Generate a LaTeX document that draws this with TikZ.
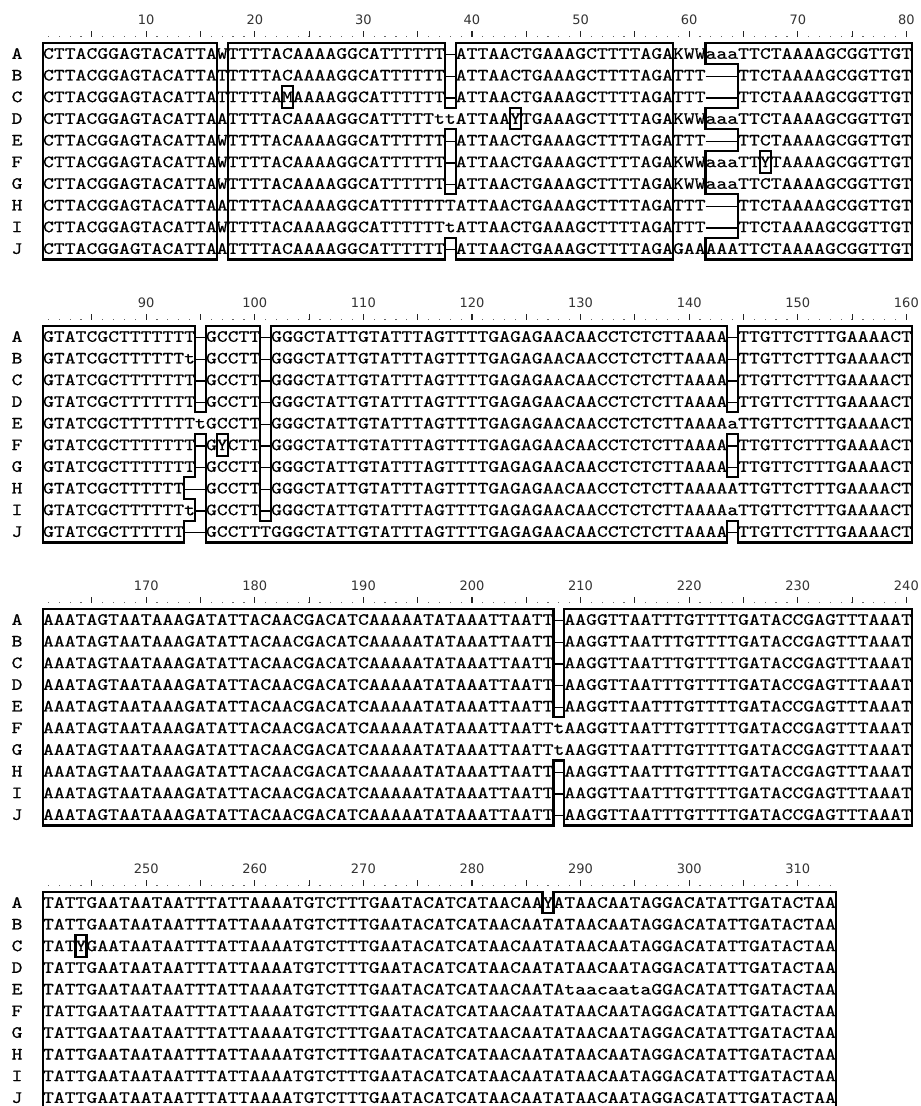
\documentclass[tikz,border=0pt]{standalone}
\usepackage{graphicx}
\usepackage{fontspec}
\newfontfamily\seqfont[FakeBold=0.6]{lmmono10-regular.otf}
\newfontfamily\numfont{DejaVu Sans}
\newcommand\gp{\rule[3.4pt]{10.862pt}{1.3pt}}
\newcommand\cells[1]{\cellsA#1\relax}
\def\cellsA#1{\ifx\relax#1\else\ifx\gp#1\gp\else\makebox[10.862pt]{\scalebox{1.2}[1]{#1}}\fi\expandafter\cellsA\fi}
\tikzset{
  seq/.style={anchor=base west,inner sep=0pt,outer sep=0pt,font=\seqfont\fontsize{17.2pt}{20pt}\selectfont},
  lab/.style={anchor=base,inner sep=0pt,font=\seqfont\fontsize{17.2pt}{20pt}\selectfont},
  num/.style={anchor=center,inner sep=0pt,text=black!80,font=\numfont\fontsize{13pt}{15pt}\selectfont},
  boxline/.style={draw=black,line width=2.2pt,line join=miter},
  tickline/.style={draw=black!85,line width=1.1pt},
  dotc/.style={fill=black!60}
}
\newcommand\seqline[4]{\node[seq] (#1) at (43,{#2+16.1+#3*21.67}) {\cells{#4}};}
\newcommand\rowlab[4]{\node[lab] (#1) at (17,{#2+16.1+#3*21.67}) {\scalebox{1.2}[1]{#4}};}
\newcommand\ruler[4]{% #1 top, #2 ncols, #3 offset, #4 block id
  \foreach \k in {1,...,#2} {\fill[dotc] ({43+(\k-0.5)*10.86-0.6},{#1-6.6}) rectangle ({43+(\k-0.5)*10.86+0.6},{#1-5.4});}
  \foreach \k in {5,10,...,#2} {\draw[tickline] ({43+(\k-0.5)*10.86},{#1-11.7}) -- ({43+(\k-0.5)*10.86},{#1-5.4});}
  \foreach \k in {10,20,...,#2} {\pgfmathtruncatemacro\nn{\k+#3}\node[num] (n#4-\nn) at ({43+(\k-0.5)*10.86},{#1-23.2}) {\nn};}
  \foreach \l [count=\i from 0] in {A,B,C,D,E,F,G,H,I,J} {\rowlab{lab#4\l}{#1}{\i}{\l}}
}
\begin{document}
\begin{tikzpicture}[x=1pt,y=-1pt]
\useasboundingbox (0,0) rectangle (921,1106);
\fill[white] (0,0) rectangle (921,1106);

% ---------------- block 1 ----------------
\def\tA{42.7}
\ruler{\tA}{80}{0}{1}
\seqline{b1A}{\tA}{0}{CTTACGGAGTACATTAWTTTTACAAAAGGCATTTTTT\gp ATTAACTGAAAGCTTTTAGAKWWaaaTTCTAAAAGCGGTTGT}
\seqline{b1B}{\tA}{1}{CTTACGGAGTACATTATTTTTACAAAAGGCATTTTTT\gp ATTAACTGAAAGCTTTTAGATTT\gp\gp\gp TTCTAAAAGCGGTTGT}
\seqline{b1C}{\tA}{2}{CTTACGGAGTACATTATTTTTAMAAAAGGCATTTTTT\gp ATTAACTGAAAGCTTTTAGATTT\gp\gp\gp TTCTAAAAGCGGTTGT}
\seqline{b1D}{\tA}{3}{CTTACGGAGTACATTAATTTTACAAAAGGCATTTTTttATTAAYTGAAAGCTTTTAGAKWWaaaTTCTAAAAGCGGTTGT}
\seqline{b1E}{\tA}{4}{CTTACGGAGTACATTAWTTTTACAAAAGGCATTTTTT\gp ATTAACTGAAAGCTTTTAGATTT\gp\gp\gp TTCTAAAAGCGGTTGT}
\seqline{b1F}{\tA}{5}{CTTACGGAGTACATTAWTTTTACAAAAGGCATTTTTT\gp ATTAACTGAAAGCTTTTAGAKWWaaaTTYTAAAAGCGGTTGT}
\seqline{b1G}{\tA}{6}{CTTACGGAGTACATTAWTTTTACAAAAGGCATTTTTT\gp ATTAACTGAAAGCTTTTAGAKWWaaaTTCTAAAAGCGGTTGT}
\seqline{b1H}{\tA}{7}{CTTACGGAGTACATTAATTTTACAAAAGGCATTTTTTTATTAACTGAAAGCTTTTAGATTT\gp\gp\gp TTCTAAAAGCGGTTGT}
\seqline{b1I}{\tA}{8}{CTTACGGAGTACATTAWTTTTACAAAAGGCATTTTTTtATTAACTGAAAGCTTTTAGATTT\gp\gp\gp TTCTAAAAGCGGTTGT}
\seqline{b1J}{\tA}{9}{CTTACGGAGTACATTAATTTTACAAAAGGCATTTTTT\gp ATTAACTGAAAGCTTTTAGAGAAAAATTCTAAAAGCGGTTGT}
\begin{scope}[shift={(43pt,-42.7pt)},x=10.86pt,y=-21.67pt]
\draw[boxline] (0,0) rectangle (16,10);
\draw[boxline] (17,0) -- (37,0) -- (37,3) -- (38,3) -- (38,0) -- (58,0) -- (58,10) -- (38,10) -- (38,9) -- (37,9) -- (37,10) -- (17,10) -- cycle;
\draw[boxline] (37,4) rectangle (38,7);
\draw[boxline] (22,2) rectangle (23,3);
\draw[boxline] (43,3) rectangle (44,4);
\draw[boxline] (61,0) -- (80,0) -- (80,10) -- (61,10) -- (61,9) -- (64,9) -- (64,7) -- (61,7) -- (61,5) -- (64,5) -- (64,4) -- (61,4) -- (61,3) -- (64,3) -- (64,1) -- (61,1) -- cycle;
\draw[boxline] (66,5) rectangle (67,6);
\end{scope}

% ---------------- block 2 ----------------
\def\tB{325.7}
\ruler{\tB}{80}{80}{2}
\seqline{b2A}{\tB}{0}{GTATCGCTTTTTTT\gp GCCTT\gp GGGCTATTGTATTTAGTTTTGAGAGAACAACCTCTCTTAAAA\gp TTGTTCTTTGAAAACT}
\seqline{b2B}{\tB}{1}{GTATCGCTTTTTTt\gp GCCTT\gp GGGCTATTGTATTTAGTTTTGAGAGAACAACCTCTCTTAAAA\gp TTGTTCTTTGAAAACT}
\seqline{b2C}{\tB}{2}{GTATCGCTTTTTTT\gp GCCTT\gp GGGCTATTGTATTTAGTTTTGAGAGAACAACCTCTCTTAAAA\gp TTGTTCTTTGAAAACT}
\seqline{b2D}{\tB}{3}{GTATCGCTTTTTTT\gp GCCTT\gp GGGCTATTGTATTTAGTTTTGAGAGAACAACCTCTCTTAAAA\gp TTGTTCTTTGAAAACT}
\seqline{b2E}{\tB}{4}{GTATCGCTTTTTTTtGCCTT\gp GGGCTATTGTATTTAGTTTTGAGAGAACAACCTCTCTTAAAAaTTGTTCTTTGAAAACT}
\seqline{b2F}{\tB}{5}{GTATCGCTTTTTTT\gp GYCTT\gp GGGCTATTGTATTTAGTTTTGAGAGAACAACCTCTCTTAAAA\gp TTGTTCTTTGAAAACT}
\seqline{b2G}{\tB}{6}{GTATCGCTTTTTTT\gp GCCTT\gp GGGCTATTGTATTTAGTTTTGAGAGAACAACCTCTCTTAAAA\gp TTGTTCTTTGAAAACT}
\seqline{b2H}{\tB}{7}{GTATCGCTTTTTT\gp\gp GCCTT\gp GGGCTATTGTATTTAGTTTTGAGAGAACAACCTCTCTTAAAAATTGTTCTTTGAAAACT}
\seqline{b2I}{\tB}{8}{GTATCGCTTTTTTt\gp GCCTT\gp GGGCTATTGTATTTAGTTTTGAGAGAACAACCTCTCTTAAAAaTTGTTCTTTGAAAACT}
\seqline{b2J}{\tB}{9}{GTATCGCTTTTTT\gp\gp GCCTTTGGGCTATTGTATTTAGTTTTGAGAGAACAACCTCTCTTAAAA\gp TTGTTCTTTGAAAACT}
\begin{scope}[shift={(43pt,-325.7pt)},x=10.86pt,y=-21.67pt]
\draw[boxline] (0,0) -- (14,0) -- (14,4) -- (15,4) -- (15,0) -- (20,0) -- (20,9) -- (21,9) -- (21,0) -- (63,0) -- (63,4) -- (64,4) -- (64,0) -- (80,0) -- (80,10) -- (64,10) -- (64,9) -- (63,9) -- (63,10) -- (15,10) -- (15,5) -- (14,5) -- (14,7) -- (13,7) -- (13,8) -- (14,8) -- (14,9) -- (13,9) -- (13,10) -- (0,10) -- cycle;
\draw[boxline] (16,5) rectangle (17,6);
\draw[boxline] (63,5) rectangle (64,7);
\end{scope}

% ---------------- block 3 ----------------
\def\tC{608.7}
\ruler{\tC}{80}{160}{3}
\seqline{b3A}{\tC}{0}{AAATAGTAATAAAGATATTACAACGACATCAAAAATATAAATTAATT\gp AAGGTTAATTTGTTTTGATACCGAGTTTAAAT}
\seqline{b3B}{\tC}{1}{AAATAGTAATAAAGATATTACAACGACATCAAAAATATAAATTAATT\gp AAGGTTAATTTGTTTTGATACCGAGTTTAAAT}
\seqline{b3C}{\tC}{2}{AAATAGTAATAAAGATATTACAACGACATCAAAAATATAAATTAATT\gp AAGGTTAATTTGTTTTGATACCGAGTTTAAAT}
\seqline{b3D}{\tC}{3}{AAATAGTAATAAAGATATTACAACGACATCAAAAATATAAATTAATT\gp AAGGTTAATTTGTTTTGATACCGAGTTTAAAT}
\seqline{b3E}{\tC}{4}{AAATAGTAATAAAGATATTACAACGACATCAAAAATATAAATTAATT\gp AAGGTTAATTTGTTTTGATACCGAGTTTAAAT}
\seqline{b3F}{\tC}{5}{AAATAGTAATAAAGATATTACAACGACATCAAAAATATAAATTAATTtAAGGTTAATTTGTTTTGATACCGAGTTTAAAT}
\seqline{b3G}{\tC}{6}{AAATAGTAATAAAGATATTACAACGACATCAAAAATATAAATTAATTtAAGGTTAATTTGTTTTGATACCGAGTTTAAAT}
\seqline{b3H}{\tC}{7}{AAATAGTAATAAAGATATTACAACGACATCAAAAATATAAATTAATT\gp AAGGTTAATTTGTTTTGATACCGAGTTTAAAT}
\seqline{b3I}{\tC}{8}{AAATAGTAATAAAGATATTACAACGACATCAAAAATATAAATTAATT\gp AAGGTTAATTTGTTTTGATACCGAGTTTAAAT}
\seqline{b3J}{\tC}{9}{AAATAGTAATAAAGATATTACAACGACATCAAAAATATAAATTAATT\gp AAGGTTAATTTGTTTTGATACCGAGTTTAAAT}
\begin{scope}[shift={(43pt,-608.7pt)},x=10.86pt,y=-21.67pt]
\draw[boxline] (0,0) -- (47,0) -- (47,5) -- (48,5) -- (48,0) -- (80,0) -- (80,10) -- (48,10) -- (48,7) -- (47,7) -- (47,10) -- (0,10) -- cycle;
\end{scope}

% ---------------- block 4 ----------------
\def\tD{891.7}
\ruler{\tD}{73}{240}{4}
\seqline{b4A}{\tD}{0}{TATTGAATAATAATTTATTAAAATGTCTTTGAATACATCATAACAAYATAACAATAGGACATATTGATACTAA}
\seqline{b4B}{\tD}{1}{TATTGAATAATAATTTATTAAAATGTCTTTGAATACATCATAACAATATAACAATAGGACATATTGATACTAA}
\seqline{b4C}{\tD}{2}{TATYGAATAATAATTTATTAAAATGTCTTTGAATACATCATAACAATATAACAATAGGACATATTGATACTAA}
\seqline{b4D}{\tD}{3}{TATTGAATAATAATTTATTAAAATGTCTTTGAATACATCATAACAATATAACAATAGGACATATTGATACTAA}
\seqline{b4E}{\tD}{4}{TATTGAATAATAATTTATTAAAATGTCTTTGAATACATCATAACAATAtaacaataGGACATATTGATACTAA}
\seqline{b4F}{\tD}{5}{TATTGAATAATAATTTATTAAAATGTCTTTGAATACATCATAACAATATAACAATAGGACATATTGATACTAA}
\seqline{b4G}{\tD}{6}{TATTGAATAATAATTTATTAAAATGTCTTTGAATACATCATAACAATATAACAATAGGACATATTGATACTAA}
\seqline{b4H}{\tD}{7}{TATTGAATAATAATTTATTAAAATGTCTTTGAATACATCATAACAATATAACAATAGGACATATTGATACTAA}
\seqline{b4I}{\tD}{8}{TATTGAATAATAATTTATTAAAATGTCTTTGAATACATCATAACAATATAACAATAGGACATATTGATACTAA}
\seqline{b4J}{\tD}{9}{TATTGAATAATAATTTATTAAAATGTCTTTGAATACATCATAACAATATAACAATAGGACATATTGATACTAA}
\begin{scope}[shift={(43pt,-891.7pt)},x=10.86pt,y=-21.67pt]
\draw[boxline] (0,0) -- (46,0) -- (46,1) -- (47,1) -- (47,0) -- (73,0) -- (73,10) -- (0,10) -- cycle;
\draw[boxline] (3,2) rectangle (4,3);
\end{scope}
\end{tikzpicture}
\end{document}
